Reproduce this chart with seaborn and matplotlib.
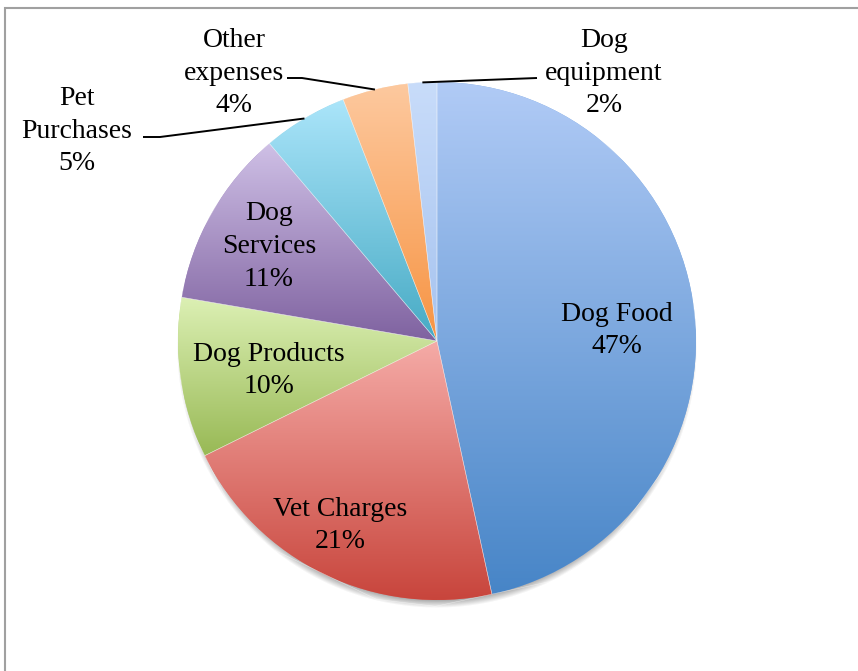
import numpy as np
import matplotlib.pyplot as plt
from matplotlib.patches import Rectangle
import seaborn as sns

# data
categories = ["Dog Food", "Vet Charges", "Dog Products", "Dog\nServices",
              "Pet\nPurchases", "Other\nexpenses", "Dog\nequipment"]
shares = [46.6, 21.1, 10.0, 11.1, 5.3, 4.1, 1.8]

# gradient colours per slice (top -> bottom)
top_colors = ["#b1cbf6", "#f5aba7", "#dcf0b4", "#cfc0e6", "#abe5fa", "#fdc99f", "#c8dcfa"]
bottom_colors = ["#4785c7", "#c8453c", "#98b955", "#7f62a0", "#46aac4", "#f79443", "#a6c3ef"]

sns.set_theme(style="white")
plt.rcParams['font.family'] = ['Liberation Serif', 'DejaVu Serif']

W, H = 858, 671
fig = plt.figure(figsize=(W / 100, H / 100), dpi=100)
ax = fig.add_axes([0, 0, 1, 1])

center = (437, 330)
radius = 259

# soft shadow under the pie
yy, xx = np.mgrid[0:H, 0:W] + 0.5
d = np.hypot(xx - center[0], yy - (center[1] - 7))
shadow = np.zeros((H, W, 4))
shadow[..., :3] = 0.25
shadow[..., 3] = 0.5 * np.clip((radius + 1 - d) / 9, 0, 1)
ax.imshow(shadow, extent=(0, W, 0, H), origin="lower", zorder=0, aspect="auto")

wedges, _ = ax.pie(shares, startangle=90, counterclock=False,
                   center=center, radius=radius,
                   wedgeprops=dict(linewidth=0), frame=True)

grad = np.linspace(0, 1, 256).reshape(-1, 1)
for w, top, bot in zip(wedges, top_colors, bottom_colors):
    w.set_facecolor(sns.blend_palette([bot, top], 3)[1])
    w.set_zorder(1)
    ext = w.get_path().get_extents()
    cmap = sns.blend_palette([bot, top], n_colors=256, as_cmap=True)
    im = ax.imshow(grad, cmap=cmap, origin="lower", aspect="auto",
                   extent=(ext.x0, ext.x1, ext.y0, ext.y1), zorder=2)
    im.set_clip_path(w)
    # thin light separators
    ax.add_patch(plt.Polygon(w.get_path().vertices, closed=True, fill=False,
                             edgecolor="white", linewidth=0.4, alpha=0.5, zorder=3))

# label placement
label_pos = [(617, 343.5), (340, 148.5), (269, 303.5), (269, 427.5),
             (77, 543), (234, 601), (604, 601)]
leader_pts = {4: [(143, 534), (160, 534)], 5: [(287, 593), (302, 593)], 6: [(537, 593)]}

for i, (w, name, v) in enumerate(zip(wedges, categories, shares)):
    text = f"{name}\n{round(v)}%"
    x, y = label_pos[i]
    if i in leader_pts:
        mid = np.deg2rad((w.theta1 + w.theta2) / 2)
        edge_pt = (center[0] + radius * np.cos(mid), center[1] + radius * np.sin(mid))
        pts = leader_pts[i] + [edge_pt]
        ax.plot([p[0] for p in pts], [p[1] for p in pts], color="black",
                linewidth=1.4, zorder=4, solid_capstyle="butt")
    ax.text(x, y - 3, text, ha="center", va="center", fontsize=20,
            linespacing=1.42, color="black", zorder=5)

# outer frame
ax.add_patch(Rectangle((4.5, -50), 1000, H - 7.5 + 50, fill=False,
                       edgecolor="#a0a0a0", linewidth=1.5, zorder=6))

ax.set_xlim(0, W)
ax.set_ylim(0, H)
ax.set_aspect("equal")
ax.axis("off")

fig.savefig("out.png", dpi=100, facecolor="white")
